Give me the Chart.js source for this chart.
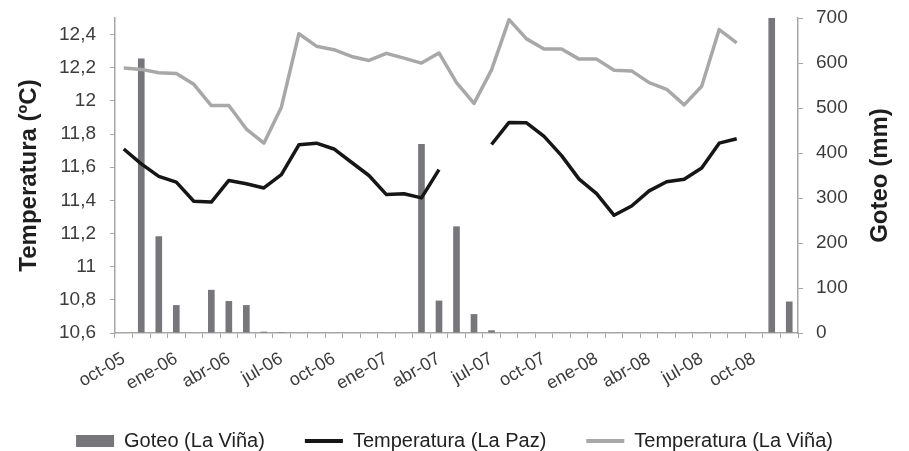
<!DOCTYPE html>
<html lang="es">
<head>
<meta charset="utf-8">
<title>Goteo y temperatura</title>
<script src="https://cdn.jsdelivr.net/npm/chart.js@4.4.1/dist/chart.umd.min.js"></script>
<style>
  html, body { margin: 0; padding: 0; background: #fff; }
  #wrap { position: relative; width: 909px; height: 451px; }
</style>
</head>
<body>
<div id="wrap"><canvas id="chart"></canvas></div>
<script>
// ---- data: one category per month, oct-05 … dic-08 ----
const months = [
  'oct-05', 'nov-05', 'dic-05', 'ene-06', 'feb-06', 'mar-06', 'abr-06', 'may-06', 'jun-06',
  'jul-06', 'ago-06', 'sep-06', 'oct-06', 'nov-06', 'dic-06', 'ene-07', 'feb-07', 'mar-07',
  'abr-07', 'may-07', 'jun-07', 'jul-07', 'ago-07', 'sep-07', 'oct-07', 'nov-07', 'dic-07',
  'ene-08', 'feb-08', 'mar-08', 'abr-08', 'may-08', 'jun-08', 'jul-08', 'ago-08', 'sep-08',
  'oct-08', 'nov-08', 'dic-08'
];

// Goteo (mm), right axis
const goteoLaVina = [
  0, 610, 215, 62, 0, 96, 71, 62, 3, 2,
  0, 0, 0, 0, 0, 0, 0, 420, 72, 237, 42, 6,
  0, 0, 0, 0, 0, 0, 0, 0, 0, 0, 0, 0, 0, 0, 0,
  700, 70
];

// Temperatura (ºC), left axis — null = no reading
const tempLaPaz = [
  11.71, 11.62, 11.545, 11.51, 11.395, 11.39, 11.52, 11.5, 11.475, 11.555,
  11.735, 11.745, 11.71, 11.63, 11.55, 11.435, 11.44, 11.415, 11.585, null, null,
  11.737, 11.87, 11.868, 11.786, 11.67, 11.528, 11.441, 11.31, 11.366, 11.457,
  11.512, 11.528, 11.595, 11.745, 11.772, null, null, null
];

const tempLaVina = [
  12.198, 12.19, 12.17, 12.165, 12.1, 11.972, 11.972, 11.83, 11.745, 11.962,
  12.405, 12.33, 12.309, 12.268, 12.244, 12.287, 12.258, 12.228, 12.289, 12.11,
  11.985, 12.187, 12.49, 12.374, 12.313, 12.313, 12.252, 12.252, 12.185, 12.181,
  12.11, 12.07, 11.976, 12.088, 12.43, 12.35, null, null, null
];

const tempTicks  = [10.6, 10.8, 11, 11.2, 11.4, 11.6, 11.8, 12, 12.2, 12.4];
const goteoTicks = [0, 100, 200, 300, 400, 500, 600, 700];

// ---- style ----
const barGrey  = '#77777b';
const pazBlack = '#161616';
const vinaGrey = '#a8a8a8';
const axisGrey = '#a6a6a6';
const tickText = '#3c3c3c';

Chart.defaults.font.family = '"Liberation Sans", Arial, sans-serif';
Chart.defaults.color = tickText;

const comma = (v) => String(v).replace('.', ',');

// fixed scale widths so the plot box sits where the original's does;
// the label overhang padding is dropped, layout.padding handles the top
const fixWidth = (w) => (s) => {
  s.width = w;
  s.paddingTop = 0;
  s.paddingBottom = 0;
};

// Chart.js turns a right-hand title to read downwards; the original reads upwards,
// so that one is drawn by hand next to the right scale.
const rightTitle = {
  id: 'rightTitle',
  afterDraw(chart) {
    const s = chart.scales.yG;
    const { ctx, chartArea } = chart;
    ctx.save();
    ctx.translate(s.right - 29, (chartArea.top + chartArea.bottom) / 2);
    ctx.rotate(-Math.PI / 2);
    ctx.font = 'bold 24px "Liberation Sans", Arial, sans-serif';
    ctx.fillStyle = '#1e1e1e';
    ctx.textAlign = 'center';
    ctx.textBaseline = 'middle';
    ctx.fillText('Goteo (mm)', 0, 0);
    ctx.restore();
  }
};

new Chart(document.getElementById('chart'), {
  type: 'bar',
  data: {
    labels: months,
    datasets: [
      {
        type: 'bar',
        label: 'Goteo (La Viña)',
        data: goteoLaVina,
        yAxisID: 'yG',
        backgroundColor: barGrey,
        borderWidth: 0,
        categoryPercentage: 1,
        barPercentage: 0.38,
        order: 3,
      },
      {
        type: 'line',
        label: 'Temperatura (La Paz)',
        data: tempLaPaz,
        yAxisID: 'yT',
        borderColor: pazBlack,
        borderWidth: 3.5,
        borderJoinStyle: 'round',
        pointRadius: 0,
        pointHoverRadius: 0,
        tension: 0,
        spanGaps: false,
        order: 1,
      },
      {
        type: 'line',
        label: 'Temperatura (La Viña)',
        data: tempLaVina,
        yAxisID: 'yT',
        borderColor: vinaGrey,
        borderWidth: 3.5,
        borderJoinStyle: 'round',
        pointRadius: 0,
        pointHoverRadius: 0,
        tension: 0,
        spanGaps: false,
        order: 2,
      },
    ],
  },
  options: {
    responsive: true,
    maintainAspectRatio: false,
    animation: false,
    layout: { padding: { top: 18, bottom: -10, left: 0, right: 0 } },
    plugins: {
      tooltip: { enabled: false },
      legend: {
        position: 'bottom',
        labels: {
          usePointStyle: true,
          pointStyleWidth: 38,
          boxHeight: 12,
          padding: 40,
          color: '#222',
          font: { size: 20 },
          sort: (a, b) => a.datasetIndex - b.datasetIndex,
          generateLabels: (chart) =>
            Chart.defaults.plugins.legend.labels.generateLabels(chart).map((item) => {
              const ds = chart.data.datasets[item.datasetIndex];
              if (ds.type === 'bar') {
                item.pointStyle = 'rect';
                item.fillStyle = ds.backgroundColor;
                item.lineWidth = 0;
              } else {
                item.pointStyle = 'line';
                item.strokeStyle = ds.borderColor;
                item.lineWidth = 4;
              }
              return item;
            }),
        },
      },
    },
    scales: {
      x: {
        offset: true,
        grid: {
          display: true,
          offset: true,
          drawOnChartArea: false,
          drawTicks: true,
          tickLength: 5,
          color: axisGrey,
        },
        border: { color: axisGrey, width: 1.5 },
        ticks: {
          autoSkip: false,
          minRotation: 30,
          maxRotation: 30,
          padding: 10,
          font: { size: 18 },
          // one label every three months
          callback: (v, i) => (i % 3 === 0 ? months[i] : ''),
        },
        afterFit: (s) => { s.height = 58; },
      },
      yT: {
        position: 'left',
        min: 10.6,
        max: 12.5,
        afterBuildTicks: (s) => { s.ticks = tempTicks.map((v) => ({ value: v })); },
        grid: { drawOnChartArea: false, drawTicks: true, tickLength: 5, color: axisGrey },
        border: { color: axisGrey, width: 1.5 },
        ticks: { padding: 14, font: { size: 19 }, callback: (v) => comma(v) },
        title: {
          display: true,
          text: 'Temperatura (ºC)',
          color: '#1e1e1e',
          font: { size: 24, weight: 'bold' },
          padding: { top: 15, bottom: 0 },
        },
        afterFit: fixWidth(115),
      },
      yG: {
        position: 'right',
        min: 0,
        max: 700,
        afterBuildTicks: (s) => { s.ticks = goteoTicks.map((v) => ({ value: v })); },
        grid: { drawOnChartArea: false, drawTicks: true, tickLength: 5, color: axisGrey },
        border: { color: axisGrey, width: 1.5 },
        ticks: { padding: 13, font: { size: 19 } },
        afterFit: fixWidth(111),
      },
    },
  },
  plugins: [rightTitle],
});
</script>
</body>
</html>
